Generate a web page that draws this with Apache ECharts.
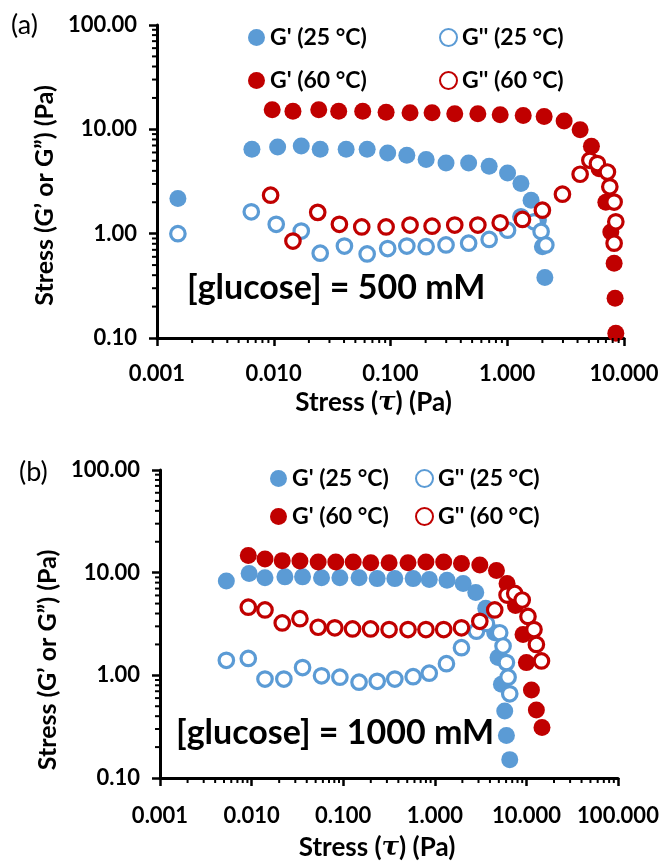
<!DOCTYPE html>
<html>
<head>
<meta charset="utf-8">
<script src="https://cdn.jsdelivr.net/npm/echarts@6/dist/echarts.min.js"></script>
<style>
  html, body { margin: 0; padding: 0; background: #fff; }
  #chart { width: 664px; height: 862px; }
</style>
</head>
<body>
<div id="chart"></div>
<script>
// ---- Panel (a): [glucose] = 500 mM ----
const aG1_25x = [0.00151, 0.0065, 0.0108, 0.0172, 0.025, 0.0417, 0.0631, 0.0946, 0.138, 0.202, 0.299, 0.467, 0.70, 1.006, 1.31, 1.60, 1.85, 2.0, 2.10];
const aG1_25y = [2.17, 6.44, 6.77, 6.92, 6.44, 6.44, 6.44, 5.93, 5.64, 5.13, 4.76, 4.76, 4.43, 3.82, 3.02, 2.09, 1.35, 0.75, 0.38];
const aG2_25x = [0.00151, 0.00642, 0.0105, 0.0172, 0.025, 0.0403, 0.0631, 0.0946, 0.138, 0.202, 0.299, 0.467, 0.70, 1.006, 1.31, 1.70, 1.95, 2.14];
const aG2_25y = [1.0, 1.62, 1.23, 1.06, 0.65, 0.76, 0.64, 0.72, 0.76, 0.75, 0.78, 0.81, 0.88, 1.08, 1.45, 1.3, 1.05, 0.78];
const aG1_60x = [0.0097, 0.0146, 0.0243, 0.0360, 0.0578, 0.0917, 0.147, 0.227, 0.355, 0.56, 0.87, 1.37, 2.07, 3.07, 4.21, 5.26, 6.12, 6.99, 7.71, 8.23, 8.39, 8.51];
const aG1_60y = [15.4, 14.9, 15.4, 14.9, 14.9, 14.6, 14.45, 14.45, 14.1, 14.1, 13.8, 13.6, 13.3, 12.0, 9.93, 6.88, 4.2, 2.0, 1.04, 0.52, 0.24, 0.111];
const aG2_60x = [0.0094, 0.0146, 0.0238, 0.0365, 0.0567, 0.0917, 0.147, 0.227, 0.355, 0.56, 0.87, 1.35, 2.0, 2.97, 4.21, 5.10, 5.92, 7.21, 7.56, 8.23, 8.51, 8.23];
const aG2_60y = [2.34, 0.85, 1.60, 1.23, 1.16, 1.16, 1.21, 1.18, 1.21, 1.21, 1.27, 1.37, 1.68, 2.39, 3.71, 5.05, 4.70, 3.90, 2.81, 2.01, 1.30, 0.81];

// ---- Panel (b): [glucose] = 1000 mM ----
const bG1_25x = [0.0053, 0.0094, 0.0140, 0.0231, 0.036, 0.058, 0.092, 0.149, 0.235, 0.366, 0.58, 0.87, 1.36, 2.04, 2.80, 3.60, 4.51, 4.9, 5.34, 5.8, 6.05, 6.58];
const bG1_25y = [8.3, 9.8, 8.9, 9.1, 9.1, 8.9, 8.9, 8.9, 8.75, 8.75, 8.75, 8.6, 8.43, 7.84, 6.42, 4.5, 2.6, 1.49, 0.82, 0.45, 0.26, 0.151];
const bG2_25x = [0.0053, 0.0092, 0.0140, 0.0225, 0.036, 0.058, 0.092, 0.149, 0.235, 0.366, 0.58, 0.87, 1.34, 1.955, 2.85, 3.66, 5.11, 5.56, 6.05, 6.31, 6.58];
const bG2_25y = [1.40, 1.46, 0.92, 0.92, 1.19, 0.99, 0.96, 0.857, 0.875, 0.92, 0.97, 1.05, 1.30, 1.86, 2.69, 3.2, 2.6, 1.93, 1.33, 0.96, 0.66];
const bG1_60x = [0.0092, 0.0140, 0.0216, 0.0337, 0.0533, 0.083, 0.1285, 0.200, 0.317, 0.51, 0.80, 1.25, 1.955, 3.10, 4.71, 6.15, 7.6, 9.19, 10.0, 11.35, 12.85, 14.8];
const bG1_60y = [14.7, 13.6, 13.1, 13.0, 12.7, 12.7, 12.7, 12.5, 12.5, 12.5, 12.7, 12.7, 12.3, 11.9, 10.5, 7.84, 4.8, 2.50, 1.33, 0.72, 0.46, 0.31];
const bG2_60x = [0.0092, 0.0140, 0.0216, 0.0337, 0.0533, 0.081, 0.1265, 0.199, 0.317, 0.51, 0.80, 1.25, 1.955, 3.10, 4.51, 6.15, 7.46, 9.0, 10.4, 12.1, 12.85, 14.6];
const bG2_60y = [4.61, 4.34, 3.24, 3.56, 2.94, 2.90, 2.83, 2.83, 2.79, 2.79, 2.79, 2.79, 2.90, 3.36, 4.34, 6.05, 6.28, 5.42, 3.75, 2.79, 2.0, 1.38];

// ---- Tick labels and names ----
const xTickLabelsA = ['0.001', '0.010', '0.100', '1.000', '10.000'];
const xTickLabelsB = ['0.001', '0.010', '0.100', '1.000', '10.000', '100.000'];
const yTickLabels = ['0.10', '1.00', '10.00', '100.00'];
const seriesNames = ["G' (25 °C)", "G'' (25 °C)", "G' (60 °C)", "G'' (60 °C)"];

const BLUE = '#5B9BD5';
const RED = '#C00000';
const FONT = 'Lato, "Open Sans", sans-serif';

const zip = (xs, ys) => xs.map((x, i) => [x, ys[i]]);

function filledStyle(c) { return { color: c, borderWidth: 0, opacity: 1 }; }
function openStyle(c) { return { color: '#fff', borderColor: c, borderWidth: 3.2, opacity: 1 }; }

function scatter(gi, name, data, style, size) {
  return {
    type: 'scatter', name, xAxisIndex: gi, yAxisIndex: gi, data,
    symbol: 'circle', symbolSize: size, itemStyle: style, z: 3,
    emphasis: { disabled: true }
  };
}

// decade minor ticks (2..9 x 10^k) drawn through the axis scale
function minorValues(lo, hi) {
  const out = [];
  for (let e = lo; e < hi; e++) {
    for (let m = 2; m <= 9; m++) out.push(m * Math.pow(10, e));
  }
  return out;
}

function minorTicks(gi, axis, values, anchor) {
  return {
    type: 'custom', xAxisIndex: gi, yAxisIndex: gi, silent: true, clip: false, z: 5,
    data: values.map(v => axis === 'x' ? [v, anchor] : [anchor, v]),
    renderItem: (params, api) => {
      const p = api.coord([api.value(0), api.value(1)]);
      const shape = axis === 'x'
        ? { x1: p[0], y1: p[1], x2: p[0], y2: p[1] + 5 }
        : { x1: p[0], y1: p[1], x2: p[0] - 5, y2: p[1] };
      return { type: 'line', shape, style: { stroke: '#000', lineWidth: 2 } };
    }
  };
}

function xAxisDef(gi, min, max, labels, labelMargin, gap, padRight) {
  return {
    type: 'log', logBase: 10, gridIndex: gi, min, max,
    axisLine: { lineStyle: { color: '#000', width: 3 } },
    axisTick: { inside: false, length: 8, lineStyle: { color: '#000', width: 2.5 } },
    splitLine: { show: false },
    axisLabel: {
      margin: labelMargin, color: '#000', fontFamily: FONT, fontWeight: 'bold', fontSize: 22,
      formatter: v => labels[Math.round(Math.log10(v) - Math.log10(min))]
    },
    name: 'Stress ({i|τ}) (Pa)', nameLocation: 'middle', nameGap: gap,
    nameTextStyle: {
      color: '#000', fontFamily: FONT, fontWeight: 'bold', fontSize: 26,
      padding: [0, padRight, 0, 0],
      rich: { i: { fontStyle: 'italic', fontWeight: 'bold', fontSize: 26, fontFamily: '"DejaVu Serif", serif' } }
    }
  };
}

function yAxisDef(gi, gap, padRight) {
  return {
    type: 'log', logBase: 10, gridIndex: gi, min: 0.1, max: 100,
    axisLine: { lineStyle: { color: '#000', width: 3 } },
    axisTick: { inside: false, length: 8, lineStyle: { color: '#000', width: 2.5 } },
    splitLine: { show: false },
    axisLabel: {
      margin: 20, color: '#000', fontFamily: FONT, fontWeight: 'bold', fontSize: 22,
      formatter: v => yTickLabels[Math.round(Math.log10(v) + 1)]
    },
    name: 'Stress (G’ or G”) (Pa)', nameLocation: 'middle', nameGap: gap,
    nameTextStyle: {
      color: '#000', fontFamily: FONT, fontWeight: 'bold', fontSize: 25,
      padding: [0, padRight, 0, 0]
    }
  };
}

function legendItem(name, left, top) {
  return {
    data: [name], left, top, padding: 0, icon: 'circle', itemWidth: 17, itemHeight: 17,
    itemGap: 0, selectedMode: false,
    textStyle: { color: '#000', fontFamily: FONT, fontWeight: 'bold', fontSize: 23 }
  };
}

const chart = echarts.init(document.getElementById('chart'), null, { renderer: 'canvas' });

chart.setOption({
  animation: false,
  backgroundColor: '#fff',
  grid: [
    { left: 157, right: 40, top: 25, bottom: 524 },
    { left: 160, right: 46, top: 470, bottom: 80 }
  ],
  xAxis: [
    xAxisDef(0, 0.001, 10, xTickLabelsA, 25, 52, 34),
    xAxisDef(1, 0.001, 100, xTickLabelsB, 27, 57, 24)
  ],
  yAxis: [
    yAxisDef(0, 98, 28),
    yAxisDef(1, 97, 72)
  ],
  legend: [
    legendItem(seriesNames[0], 248, 26),
    legendItem(seriesNames[1], 439, 26),
    legendItem(seriesNames[2], 248, 69),
    legendItem(seriesNames[3], 439, 69),
    legendItem(seriesNames[0], 270, 467),
    legendItem(seriesNames[1], 415, 467),
    legendItem(seriesNames[2], 270, 505),
    legendItem(seriesNames[3], 415, 505)
  ],
  graphic: [
    { type: 'text', left: 11, top: 12, style: { text: '(a)', fontSize: 27, fontFamily: FONT, fill: '#000' } },
    { type: 'text', left: 19, top: 459, style: { text: '(b)', fontSize: 27, fontFamily: FONT, fill: '#000' } },
    { type: 'text', left: 187, top: 271, style: { text: '[glucose] = 500 mM', fontSize: 34, fontFamily: FONT, fontWeight: 'bold', fill: '#000' } },
    { type: 'text', left: 176, top: 716, style: { text: '[glucose] = 1000 mM', fontSize: 34, fontFamily: FONT, fontWeight: 'bold', fill: '#000' } }
  ],
  series: [
    scatter(0, seriesNames[0], zip(aG1_25x, aG1_25y), filledStyle(BLUE), 17),
    scatter(0, seriesNames[1], zip(aG2_25x, aG2_25y), openStyle(BLUE), 14.5),
    scatter(0, seriesNames[2], zip(aG1_60x, aG1_60y), filledStyle(RED), 17),
    scatter(0, seriesNames[3], zip(aG2_60x, aG2_60y), openStyle(RED), 14.5),
    scatter(1, seriesNames[0], zip(bG1_25x, bG1_25y), filledStyle(BLUE), 17),
    scatter(1, seriesNames[1], zip(bG2_25x, bG2_25y), openStyle(BLUE), 14.5),
    scatter(1, seriesNames[2], zip(bG1_60x, bG1_60y), filledStyle(RED), 17),
    scatter(1, seriesNames[3], zip(bG2_60x, bG2_60y), openStyle(RED), 14.5),
    minorTicks(0, 'x', minorValues(-3, 1), 0.1),
    minorTicks(0, 'y', minorValues(-1, 2), 0.001),
    minorTicks(1, 'x', minorValues(-3, 2), 0.1),
    minorTicks(1, 'y', minorValues(-1, 2), 0.001)
  ]
});
</script>
</body>
</html>
